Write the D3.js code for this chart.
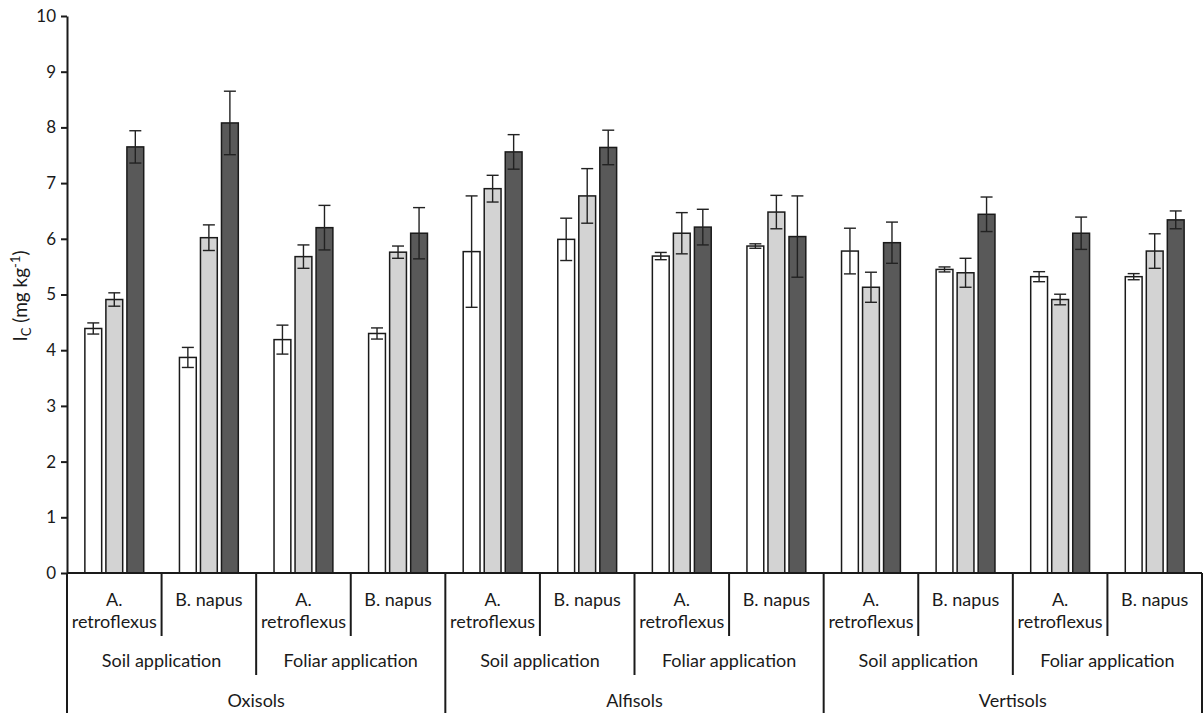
<!DOCTYPE html>
<html lang="en">
<head>
<meta charset="utf-8">
<title>Ic bar chart</title>
<script src="https://cdn.jsdelivr.net/npm/d3@7"></script>
<style>
  body { margin: 0; background: #fff; }
  text { font-family: Lato, "Open Sans", sans-serif; fill: #1a1a1a; }
</style>
</head>
<body>
<script>
var w = 1204;
var h = 713;

// category hierarchy
var soils = ["Oxisols", "Alfisols", "Vertisols"];
var applications = ["Soil application", "Foliar application"];
var species = [["A.", "retroflexus"], ["B. napus"]];

var series = ["s1", "s2", "s3"];
var seriesFill = ["#ffffff", "#d3d3d3", "#595959"];

// values per category, order: soil > application > species
var values1 = [4.39, 3.87, 4.19, 4.30, 5.77, 5.99, 5.69, 5.87, 5.78, 5.45, 5.32, 5.32];
var values2 = [4.91, 6.02, 5.68, 5.76, 6.90, 6.77, 6.10, 6.48, 5.13, 5.39, 4.91, 5.78];
var values3 = [7.65, 8.08, 6.20, 6.10, 7.56, 7.64, 6.21, 6.04, 5.93, 6.44, 6.10, 6.34];
var errors1 = [0.10, 0.18, 0.26, 0.10, 1.00, 0.38, 0.065, 0.04, 0.41, 0.045, 0.09, 0.055];
var errors2 = [0.12, 0.23, 0.21, 0.11, 0.24, 0.49, 0.37, 0.30, 0.27, 0.26, 0.095, 0.31];
var errors3 = [0.29, 0.57, 0.40, 0.46, 0.31, 0.31, 0.32, 0.73, 0.37, 0.31, 0.29, 0.16];

var yTicks = [0, 1, 2, 3, 4, 5, 6, 7, 8, 9, 10];

var categories = [];
soils.forEach(function(s) {
  applications.forEach(function(a) {
    species.forEach(function(sp) {
      categories.push({ soil: s, app: a, sp: sp, id: s + "|" + a + "|" + sp.join(" ") });
    });
  });
});

var allValues = [values1, values2, values3];
var allErrors = [errors1, errors2, errors3];

var bars = [];
categories.forEach(function(c, i) {
  series.forEach(function(s, j) {
    bars.push({ cat: c.id, s: s, v: allValues[j][i], e: allErrors[j][i], fill: seriesFill[j] });
  });
});

var plotLeft = 67, plotRight = 1202, plotTop = 16, plotBase = 573;

var x0 = d3.scaleBand()
  .domain(categories.map(function(c) { return c.id; }))
  .range([plotLeft, plotRight])
  .padding(0);

var x1 = d3.scaleBand()
  .domain(series)
  .range([0, x0.bandwidth()])
  .paddingInner(0.2)
  .paddingOuter(0.85);

var y = d3.scaleLinear()
  .domain([0, 10])
  .range([plotBase, plotTop]);

var svg = d3.select("body").append("svg")
  .attr("width", w)
  .attr("height", h);

// bars
svg.append("g").selectAll("rect")
  .data(bars)
  .enter()
  .append("rect")
  .attr("x", function(d) { return x0(d.cat) + x1(d.s); })
  .attr("y", function(d) { return y(d.v); })
  .attr("width", x1.bandwidth())
  .attr("height", function(d) { return y(0) - y(d.v); })
  .attr("fill", function(d) { return d.fill; })
  .attr("stroke", "#1a1a1a")
  .attr("stroke-width", 1.5);

// error bars
var eb = svg.append("g")
  .attr("stroke", "#222")
  .attr("stroke-width", 1.4)
  .selectAll("g")
  .data(bars)
  .enter()
  .append("g")
  .attr("transform", function(d) {
    return "translate(" + (x0(d.cat) + x1(d.s) + x1.bandwidth() / 2) + ",0)";
  });
eb.append("line")
  .attr("y1", function(d) { return y(d.v + d.e); })
  .attr("y2", function(d) { return y(d.v - d.e); });
eb.append("line")
  .attr("x1", -6).attr("x2", 6)
  .attr("y1", function(d) { return y(d.v + d.e); })
  .attr("y2", function(d) { return y(d.v + d.e); });
eb.append("line")
  .attr("x1", -6).attr("x2", 6)
  .attr("y1", function(d) { return y(d.v - d.e); })
  .attr("y2", function(d) { return y(d.v - d.e); });

// y axis
var yAxis = d3.axisLeft(y)
  .tickValues(yTicks)
  .tickSize(6)
  .tickSizeOuter(0)
  .tickPadding(5);

var ga = svg.append("g")
  .attr("transform", "translate(" + plotLeft + ",0)")
  .call(yAxis);
ga.select(".domain").attr("stroke", "#1a1a1a").attr("stroke-width", 2);
ga.selectAll(".tick line").attr("stroke", "#1a1a1a").attr("stroke-width", 2);
ga.selectAll(".tick text")
  .style("font-family", "Lato, 'Open Sans', sans-serif")
  .style("font-size", "17px")
  .attr("fill", "#1a1a1a");

// y label
var yl = svg.append("text")
  .attr("transform", "translate(27," + 296 + ") rotate(-90)")
  .attr("text-anchor", "middle")
  .style("font-size", "19px");
yl.append("tspan").text("I");
yl.append("tspan").text("C").attr("dy", 4).style("font-size", "13px");
yl.append("tspan").text(" (mg kg").attr("dy", -4);
yl.append("tspan").text("-1").attr("dy", -7).style("font-size", "13px");
yl.append("tspan").text(")").attr("dy", 7);

// category table
var grid = svg.append("g")
  .attr("stroke", "#1a1a1a")
  .attr("stroke-width", 2);

grid.append("line")
  .attr("x1", plotLeft).attr("x2", plotRight)
  .attr("y1", plotBase).attr("y2", plotBase);

var bw = x0.bandwidth();
var edges = d3.range(categories.length + 1);
grid.selectAll("line.sep")
  .data(edges)
  .enter()
  .append("line")
  .attr("class", "sep")
  .attr("x1", function(i) { return plotLeft + i * bw; })
  .attr("x2", function(i) { return plotLeft + i * bw; })
  .attr("y1", plotBase)
  .attr("y2", function(i) {
    if (i % 4 === 0) return h;
    if (i % 2 === 0) return 675;
    return 636;
  });

var lab = svg.append("g").attr("text-anchor", "middle").style("font-size", "18px");

categories.forEach(function(c) {
  var cx = x0(c.id) + bw / 2;
  c.sp.forEach(function(line, k) {
    lab.append("text")
      .attr("x", cx)
      .attr("y", 606 + k * 22)
      .text(line);
  });
});

soils.forEach(function(s, i) {
  applications.forEach(function(a, j) {
    var k = i * 4 + j * 2;
    lab.append("text")
      .attr("x", plotLeft + (k + 1) * bw)
      .attr("y", 667)
      .text(a);
  });
  lab.append("text")
    .attr("x", plotLeft + (i * 4 + 2) * bw)
    .attr("y", 707)
    .text(s);
});
</script>
</body>
</html>
